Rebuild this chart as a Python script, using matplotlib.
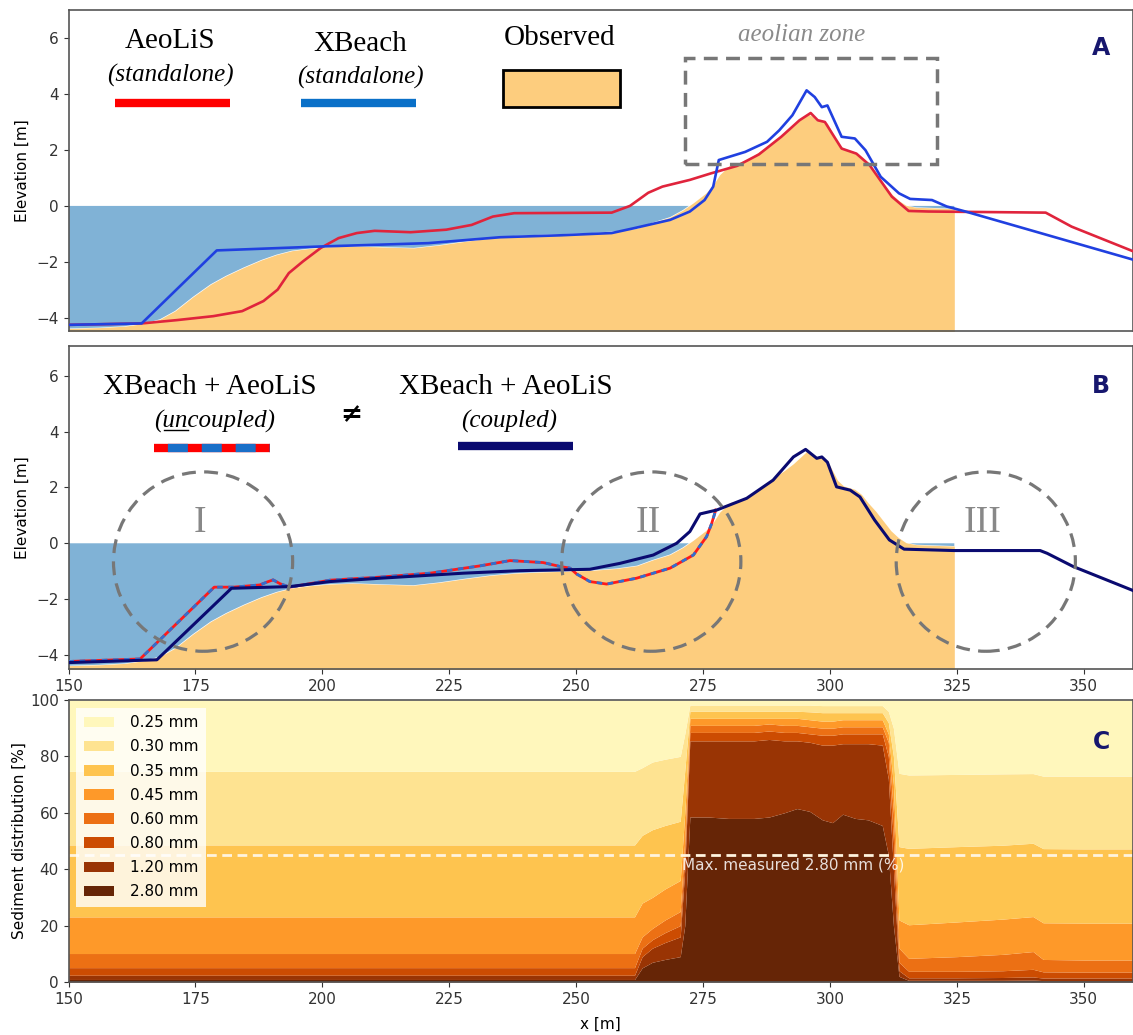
import numpy as np
import matplotlib
matplotlib.use("Agg")
import matplotlib.pyplot as plt
from matplotlib.patches import Ellipse, Rectangle
from matplotlib.lines import Line2D

plt.rcParams['font.family'] = 'DejaVu Sans'
plt.rcParams['font.size'] = 11
plt.rcParams['lines.scale_dashes'] = False

# observed profile
obs_x = [150, 156, 161, 165, 168, 171, 174.5, 178, 181, 184.5, 188, 191, 194, 197.5, 201.5, 206, 212, 218,
         223, 228, 233, 238, 243, 248, 253, 258, 262, 265, 268.5, 271, 273, 275.5, 277, 278.3, 280.3, 282.2,
         284.6, 287, 289, 291, 292.8, 294.3, 295.5, 296.5, 297.4, 298.4, 299.5, 300.5, 301.5, 302.7, 304.9,
         306.2, 307.5, 309, 310.5, 312, 313.5, 315, 317, 320, 324.5]
obs_z = [-4.38, -4.35, -4.3, -4.2, -4.05, -3.75, -3.25, -2.8, -2.5, -2.2, -1.93, -1.74, -1.6, -1.52, -1.46,
         -1.43, -1.47, -1.5, -1.4, -1.27, -1.15, -1.07, -1.03, -1.0, -0.97, -0.9, -0.8, -0.6, -0.4, -0.15, 0.1,
         0.45, 0.75, 1.12, 1.46, 1.55, 1.76, 2.05, 2.35, 2.6, 2.85, 3.1, 3.3, 3.2, 3.04, 3.08, 2.95, 2.6, 2.25,
         2.05, 1.93, 1.75, 1.45, 1.15, 0.8, 0.45, 0.2, 0.02, -0.05, -0.07, -0.1]

# AeoLiS standalone
aeo_x = [150, 164.4, 171.4, 178.5, 184.2, 188.4, 191.2, 193.4, 196.2, 199.7, 203.2, 206.8, 210.3, 217.4,
         224.4, 229.4, 233.6, 237.8, 257, 260.6, 264.2, 267, 272.4, 276.5, 281.7, 286, 290.4, 294, 296.2,
         297.6, 299, 302.3, 305.2, 307.8, 312.2, 315.5, 319.4, 342.5, 347.6, 359.7]
aeo_z = [-4.25, -4.2, -4.08, -3.94, -3.76, -3.4, -2.99, -2.4, -1.98, -1.5, -1.15, -0.97, -0.89, -0.94,
         -0.85, -0.68, -0.38, -0.26, -0.24, 0.0, 0.47, 0.69, 0.93, 1.16, 1.43, 1.84, 2.47, 3.06, 3.32, 3.06,
         3.0, 2.05, 1.87, 1.46, 0.33, -0.18, -0.2, -0.24, -0.74, -1.62]

# XBeach standalone
xb_x = [150, 164.4, 179.2, 199.7, 220.9, 235, 247, 257, 261.3, 268.5, 272.4, 275.3, 277, 278.1, 283.3,
        287.6, 290, 292.6, 295.4, 297, 298.4, 299.5, 302.3, 304.9, 307, 310, 313.6, 315.8, 320.1, 323,
        326.7, 359.7]
xb_z = [-4.25, -4.2, -1.59, -1.45, -1.33, -1.12, -1.05, -0.97, -0.8, -0.5, -0.2, 0.21, 0.69, 1.64, 1.93,
        2.29, 2.7, 3.24, 4.13, 3.89, 3.53, 3.59, 2.47, 2.41, 1.99, 1.04, 0.45, 0.25, 0.21, -0.02, -0.2, -1.92]

# XBeach + AeoLiS uncoupled (joins coupled line after ~277.5)
unc_x = [150, 164.1, 178.7, 182.5, 187.7, 189.2, 190.3, 191.7, 193.6, 201.5, 211.4, 221.2, 231, 237,
         243.5, 246.8, 248.8, 250.1, 252.7, 256, 261.9, 268.5, 273.1, 275.7, 276.7, 277.5]
unc_z = [-4.23, -4.14, -1.57, -1.57, -1.49, -1.38, -1.31, -1.45, -1.57, -1.32, -1.21, -1.07, -0.81, -0.62,
         -0.69, -0.83, -0.89, -1.1, -1.37, -1.46, -1.25, -0.89, -0.42, 0.24, 0.71, 1.19]

# XBeach + AeoLiS coupled
cpl_x = [150, 167.4, 182.1, 193.6, 201.5, 211.4, 227.8, 238.9, 247.5, 252.7, 258.6, 265.2, 269.8, 272.4,
         274.4, 277.7, 283.6, 288.8, 292.8, 295.2, 296.3, 297.4, 298.4, 299.5, 301.3, 304, 305.9, 308.8,
         311.7, 314.6, 324.4, 341.4, 342.8, 347.9, 359.7]
cpl_z = [-4.27, -4.17, -1.61, -1.55, -1.37, -1.25, -1.07, -0.98, -0.95, -0.93, -0.72, -0.42, 0.0, 0.42,
         1.05, 1.19, 1.61, 2.26, 3.09, 3.36, 3.2, 3.04, 3.09, 2.9, 2.02, 1.9, 1.66, 0.83, 0.12, -0.21, -0.26,
         -0.26, -0.36, -0.83, -1.69]

# sediment distribution: cumulative top of each class [%]
sed_x = [150, 261.5, 263.0, 265.0, 267.5, 270.5, 271.4, 272.4, 276, 280, 285, 288, 291, 293.5, 296, 298.5,
         300.5, 302.5, 305, 307.5, 310.3, 311.5, 312.5, 313.6, 315.5, 325, 334, 340, 342, 350, 359.7]
top_280 = [0.9, 0.9, 5, 7, 8, 9, 20, 58.5, 58.5, 58, 58, 58.5, 60, 61.5, 60.5, 57.5, 56.5, 59.5, 58, 57.5,
           55.5, 45, 20, 2, 0.6, 0.6, 0.6, 0.7, 0.5, 0.5, 0.5]
top_120 = [2.4, 2.4, 9, 12, 14, 16, 40, 85.5, 85.5, 85.5, 85.5, 86, 85.5, 85.5, 85, 84, 84, 84.5, 84.5,
           84.5, 84, 72, 40, 4, 1.5, 1.5, 1.6, 1.8, 1.4, 1.4, 1.4]
top_080 = [5.1, 5.1, 12, 15, 17.5, 20, 45, 88.5, 88.5, 88.5, 88.5, 89, 88.5, 88.5, 88, 87.5, 87.5, 88, 88,
           88, 88, 80, 50, 7, 3.8, 3.8, 4, 4.5, 3.6, 3.5, 3.5]
top_060 = [10.1, 10.1, 16, 19, 22, 25, 50, 91, 91, 91, 91, 91.5, 91, 91, 90.5, 90, 90, 90.5, 90.5, 90.5,
           90.5, 85, 60, 12, 8.4, 9, 9.8, 10.8, 8, 7.8, 7.8]
top_045 = [23.1, 23.1, 28, 30, 33, 36, 60, 93.5, 93.5, 93.5, 93.5, 93.5, 93.5, 93.5, 93, 92.5, 92.5, 93,
           93, 93, 93, 88, 70, 22, 20.3, 21.3, 22.3, 23.2, 21, 20.9, 20.9]
top_035 = [48.6, 48.6, 52, 54, 55.5, 57, 75, 96, 96, 96, 96, 96, 96, 96, 95.8, 95.5, 95.5, 95.5, 95.5,
           95.5, 95.5, 92, 80, 48, 47.4, 48, 48.5, 49.2, 47.3, 47.2, 47.2]
top_030 = [74.7, 74.7, 76, 78, 79, 80, 88, 98.2, 98.2, 98.2, 98.2, 98.2, 98.2, 98.2, 98.2, 98, 98, 98, 98,
           98, 98, 96, 90, 74, 73.4, 73.6, 73.8, 73.9, 73, 73, 73]
top_025 = [100] * len(sed_x)
grain_labels = ['0.25 mm', '0.30 mm', '0.35 mm', '0.45 mm', '0.60 mm', '0.80 mm', '1.20 mm', '2.80 mm']
grain_colors = ['#fff7bc', '#fee391', '#fec44f', '#fe9929', '#ec7014', '#cc4c02', '#993404', '#662506']
max_measured = 45

# style
SAND = '#fdcd7e'
SEA = '#80b2d6'
SERIF = 'Liberation Serif'
PANEL = '#17176e'

fig = plt.figure(figsize=(11.33, 10.35), dpi=100)
axA = fig.add_axes([0.0605, 0.6802, 0.9395, 0.3101])
axB = fig.add_axes([0.0605, 0.3536, 0.9395, 0.3121])
axC = fig.add_axes([0.0605, 0.0512, 0.9395, 0.2725])

ox = np.array(obs_x)
oz = np.array(obs_z)

for ax, ylim in ((axA, (-4.47, 7.0)), (axB, (-4.5, 7.06))):
    ax.fill_between(ox, -10, oz, color=SAND, lw=0, zorder=1)
    ax.fill_between(ox, oz, 0, where=oz < 0, interpolate=True, color=SEA, lw=0, zorder=1)
    ax.set_xlim(150, 359.7)
    ax.set_ylim(*ylim)
    ax.set_yticks([-4, -2, 0, 2, 4, 6])
    ax.set_ylabel('Elevation [m]', labelpad=5)

# ---- panel A
axA.plot(aeo_x, aeo_z, color='#e0243c', lw=1.9, zorder=3)
axA.plot(xb_x, xb_z, color='#2040e0', lw=1.9, zorder=4)
axA.add_patch(Rectangle((271.5, 1.5), 49.6, 3.8, fill=False, ec='#777777', lw=2.5,
                        ls=(0, (10, 6)), zorder=5))
axA.text(294.4, 6.1, 'aeolian zone', family=SERIF, style='italic', fontsize=18, color='#8a8a8a',
         ha='center', va='center')
axA.tick_params(axis='x', bottom=False, labelbottom=False)

tA = axA.transAxes
axA.text(0.0954, 0.905, 'AeoLiS', transform=tA, family=SERIF, fontsize=21, ha='center', va='center')
axA.text(0.0954, 0.797, '(standalone)', transform=tA, family=SERIF, style='italic', fontsize=18,
         ha='center', va='center')
axA.plot([0.0437, 0.1517], [0.710, 0.710], transform=tA, color='#ff0000', lw=6, solid_capstyle='butt')
axA.text(0.2738, 0.893, 'XBeach', transform=tA, family=SERIF, fontsize=21, ha='center', va='center')
axA.text(0.2745, 0.791, '(standalone)', transform=tA, family=SERIF, style='italic', fontsize=18,
         ha='center', va='center')
axA.plot([0.2185, 0.3265], [0.710, 0.710], transform=tA, color='#0a70c8', lw=6, solid_capstyle='butt')
axA.text(0.4617, 0.912, 'Observed', transform=tA, family=SERIF, fontsize=21, ha='center', va='center')
axA.add_patch(Rectangle((0.4082, 0.698), 0.1100, 0.115, transform=tA, fc=SAND, ec='black', lw=2,
                        zorder=6))
axA.text(0.970, 0.882, 'A', transform=tA, fontsize=17, fontweight='bold', color=PANEL,
         ha='center', va='center')

# ---- panel B
axB.plot(unc_x, unc_z, color='#ff1a1a', lw=2.0, zorder=3)
axB.plot(unc_x, unc_z, color='#2f6fd0', lw=2.0, ls=(0, (4, 4)), zorder=3)
axB.plot(cpl_x, cpl_z, color='#0a0a70', lw=2.2, zorder=4)
for cx, num in ((176.5, 'I'), (264.8, 'II'), (330.7, 'III')):
    axB.add_patch(Ellipse((cx, -0.655), 35.3, 6.42, fill=False, ec='#777777', lw=2.3,
                          ls=(0, (10, 6)), zorder=6))
    axB.text(cx - 0.6, 0.75, num, family=SERIF, fontsize=27, color='#888888', ha='center', va='center',
             zorder=6)
axB.set_xticks([150, 175, 200, 225, 250, 275, 300, 325, 350])

tB = axB.transAxes
axB.text(0.133, 0.874, 'XBeach + AeoLiS', transform=tB, family=SERIF, fontsize=21, ha='center',
         va='center')
unc_txt = axB.text(0.1375, 0.766, '(uncoupled)', transform=tB, family=SERIF, style='italic', fontsize=18,
                   ha='center', va='center')
axB.plot([0.0803, 0.1893], [0.683, 0.683], transform=tB, color='#ff0000', lw=6, solid_capstyle='butt')
axB.plot([0.0803, 0.1893], [0.683, 0.683], transform=tB, color='#1a6fc8', lw=6, solid_capstyle='butt',
         ls=(14.4, (14.4, 10)))
axB.text(0.266, 0.785, '≠', transform=tB, fontsize=19, fontweight='bold', ha='center', va='center')
axB.text(0.4106, 0.874, 'XBeach + AeoLiS', transform=tB, family=SERIF, fontsize=21, ha='center',
         va='center')
axB.text(0.4138, 0.766, '(coupled)', transform=tB, family=SERIF, style='italic', fontsize=18,
         ha='center', va='center')
axB.plot([0.3659, 0.4737], [0.690, 0.690], transform=tB, color='#0a0a70', lw=6, solid_capstyle='butt')
axB.text(0.970, 0.876, 'B', transform=tB, fontsize=17, fontweight='bold', color=PANEL,
         ha='center', va='center')

# ---- panel C
tops = [top_280, top_120, top_080, top_060, top_045, top_035, top_030, top_025]
lower = np.zeros(len(sed_x))
for top, lab, col in zip(tops, grain_labels[::-1], grain_colors[::-1]):
    axC.fill_between(sed_x, lower, top, color=col, lw=0, label=lab)
    lower = np.array(top)
axC.axhline(max_measured, color='#fff4de', lw=2, ls=(0, (7, 4)))
axC.text(270.8, max_measured - 3.5, 'Max. measured 2.80 mm (%)', color='white', alpha=0.85, fontsize=11,
         ha='left', va='center')
axC.set_xlim(150, 359.7)
axC.set_ylim(0, 100)
axC.set_xticks([150, 175, 200, 225, 250, 275, 300, 325, 350])
axC.set_yticks([0, 20, 40, 60, 80, 100])
axC.set_xlabel('x [m]', labelpad=7)
axC.set_ylabel('Sediment distribution [%]', labelpad=2)
h, l = axC.get_legend_handles_labels()
axC.legend(h[::-1], l[::-1], loc='upper left', fontsize=11, framealpha=0.8, edgecolor='none',
           fancybox=False, borderaxespad=0.5, borderpad=0.5, labelspacing=0.6, handletextpad=1.0)
axC.text(0.970, 0.85, 'C', transform=axC.transAxes, fontsize=17, fontweight='bold', color=PANEL,
         ha='center', va='center')

for ax in (axA, axB, axC):
    for s in ax.spines.values():
        s.set_color('#555555')
        s.set_linewidth(1.2)
    ax.tick_params(colors='#333333', labelsize=11)

# underline the "un" of (uncoupled)
fig.canvas.draw()
r = fig.canvas.get_renderer()
bb = unc_txt.get_window_extent(r)
tmp = fig.text(0, 0, '(', family=SERIF, style='italic', fontsize=18)
w_open = tmp.get_window_extent(r).width
tmp.set_text('(un')
w_un = tmp.get_window_extent(r).width
tmp.remove()
inv = fig.transFigure.inverted()
p0 = inv.transform((bb.x0 + w_open + 1, bb.y0 + 3))
p1 = inv.transform((bb.x0 + w_un, bb.y0 + 3))
fig.add_artist(Line2D([p0[0], p1[0]], [p0[1], p1[1]], color='black', lw=1.0, transform=fig.transFigure))

fig.savefig('out.png', dpi=100)
